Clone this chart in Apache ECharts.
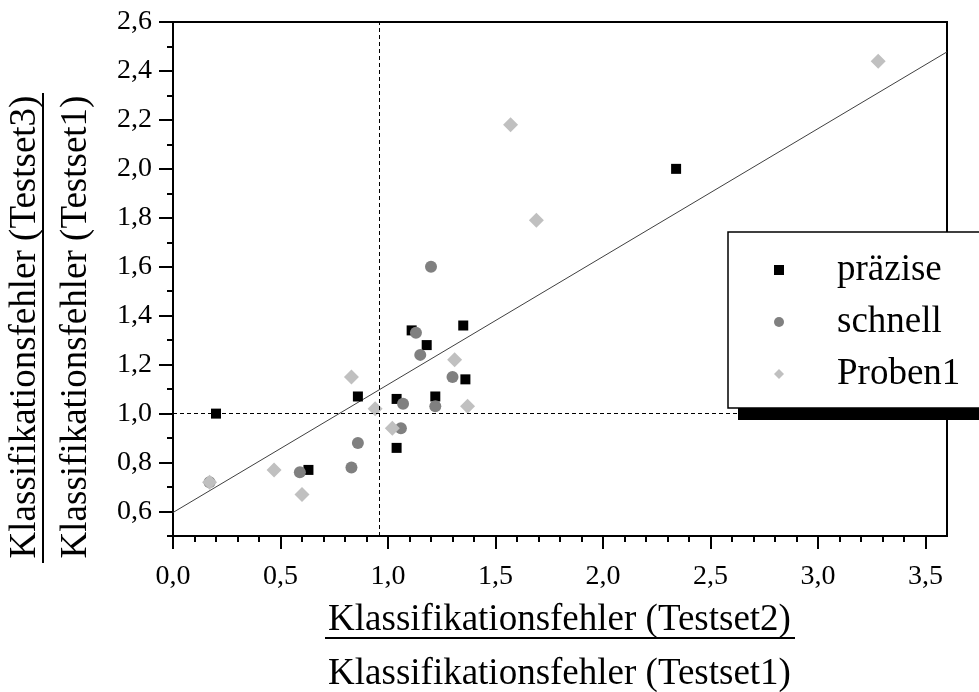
<!DOCTYPE html>
<html>
<head>
<meta charset="utf-8">
<script src="https://cdn.jsdelivr.net/npm/echarts@6/dist/echarts.min.js"></script>
<style>
html,body{margin:0;padding:0;background:#fff;}
#c{width:979px;height:692px;}
</style>
</head>
<body>
<div id="c"></div>
<script>
// ---- data ----
const seriesNames = ['präzise', 'schnell', 'Proben1'];

const praeziseX = [0.20, 0.63, 0.86, 1.04, 1.04, 1.11, 1.18, 1.22, 1.35, 1.36, 2.34];
const praeziseY = [1.00, 0.77, 1.07, 1.06, 0.86, 1.34, 1.28, 1.07, 1.36, 1.14, 2.00];

const schnellX = [0.17, 0.59, 0.83, 0.86, 1.06, 1.07, 1.13, 1.15, 1.20, 1.22, 1.30];
const schnellY = [0.72, 0.76, 0.78, 0.88, 0.94, 1.04, 1.33, 1.24, 1.60, 1.03, 1.15];

const proben1X = [0.17, 0.47, 0.60, 0.83, 0.94, 1.02, 1.31, 1.37, 1.57, 1.69, 3.28];
const proben1Y = [0.72, 0.77, 0.67, 1.15, 1.02, 0.94, 1.22, 1.03, 2.18, 1.79, 2.44];

const fitX = [0, 3.6];
const fitY = [0.596, 2.478];

const refX = 0.96;
const refY = 1.0;

const xMajorTicks = [0, 0.5, 1.0, 1.5, 2.0, 2.5, 3.0, 3.5];
const xMinorTicks = [0.1, 0.2, 0.3, 0.4, 0.6, 0.7, 0.8, 0.9, 1.1, 1.2, 1.3, 1.4,
                     1.6, 1.7, 1.8, 1.9, 2.1, 2.2, 2.3, 2.4, 2.6, 2.7, 2.8, 2.9,
                     3.1, 3.2, 3.3, 3.4];
const yMajorTicks = [0.6, 0.8, 1.0, 1.2, 1.4, 1.6, 1.8, 2.0, 2.2, 2.4, 2.6];
const yMinorTicks = [0.5, 0.7, 0.9, 1.1, 1.3, 1.5, 1.7, 1.9, 2.1, 2.3, 2.5];

const xTitle1 = 'Klassifikationsfehler (Testset2)';
const xTitle2 = 'Klassifikationsfehler (Testset1)';
const yTitle1 = 'Klassifikationsfehler (Testset3)';
const yTitle2 = 'Klassifikationsfehler (Testset1)';

// ---- helpers ----
function zip(xs, ys) { return xs.map((x, i) => [x, ys[i]]); }
const fmt = v => Number(v).toFixed(1).replace('.', ',');
const FONT = '"Liberation Serif", "Times New Roman", serif';

const chart = echarts.init(document.getElementById('c'), null, {renderer: 'canvas'});

const majorAxisCommon = {
  type: 'value',
  axisLine: {show: true, onZero: false, lineStyle: {color: '#000', width: 2}},
  splitLine: {show: false},
  minorTick: {show: false}
};

chart.setOption({
  animation: false,
  backgroundColor: '#fff',
  grid: {
    left: 173, top: 22, width: 774, height: 514,
    show: true, borderColor: '#000', borderWidth: 2, backgroundColor: 'transparent'
  },
  xAxis: [
    Object.assign({}, majorAxisCommon, {
      min: 0, max: 3.6, position: 'bottom',
      axisTick: {show: true, customValues: xMajorTicks, length: 13, lineStyle: {color: '#000', width: 2}},
      axisLabel: {customValues: xMajorTicks, formatter: fmt, margin: 27, color: '#000',
                  fontFamily: FONT, fontSize: 28}
    }),
    {
      type: 'value', min: 0, max: 3.6, position: 'bottom',
      axisLine: {show: false, onZero: false},
      axisTick: {show: true, customValues: xMinorTicks, length: 6, lineStyle: {color: '#000', width: 2}},
      axisLabel: {show: false},
      splitLine: {show: false}
    }
  ],
  yAxis: [
    Object.assign({}, majorAxisCommon, {
      min: 0.5, max: 2.6, position: 'left',
      axisTick: {show: true, customValues: yMajorTicks, length: 14, lineStyle: {color: '#000', width: 2}},
      axisLabel: {customValues: yMajorTicks, formatter: fmt, margin: 21, color: '#000',
                  fontFamily: FONT, fontSize: 28}
    }),
    {
      type: 'value', min: 0.5, max: 2.6, position: 'left',
      axisLine: {show: false, onZero: false},
      axisTick: {show: true, customValues: yMinorTicks, length: 6, lineStyle: {color: '#000', width: 2}},
      axisLabel: {show: false},
      splitLine: {show: false}
    }
  ],
  legend: {
    data: seriesNames,
    orient: 'vertical',
    left: 728, top: 232,
    padding: [18, 160, 14, 46],
    itemWidth: 10, itemHeight: 10, itemGap: 12,
    backgroundColor: '#fff',
    borderColor: '#000', borderWidth: 1.5,
    textStyle: {fontFamily: FONT, fontSize: 37, lineHeight: 40, color: '#000', padding: [0, 0, 0, 48]},
    selectedMode: false,
    z: 10
  },
  graphic: [
    // legend drop shadow
    {type: 'rect', z: 9, shape: {x: 738, y: 244, width: 260, height: 176}, style: {fill: '#000'}},
    // x axis titles
    {type: 'text', z: 10, style: {text: xTitle1, x: 559.5, y: 620.5, align: 'center', textAlign: 'center',
      verticalAlign: 'middle', textVerticalAlign: 'middle', font: '37px ' + FONT, fill: '#000'}},
    {type: 'line', z: 10, shape: {x1: 325, y1: 638, x2: 795, y2: 638}, style: {stroke: '#000', lineWidth: 2}},
    {type: 'text', z: 10, style: {text: xTitle2, x: 559.5, y: 674, align: 'center', textAlign: 'center',
      verticalAlign: 'middle', textVerticalAlign: 'middle', font: '37px ' + FONT, fill: '#000'}},
    // y axis titles
    {type: 'text', z: 10, x: 25, y: 327, rotation: Math.PI / 2,
      style: {text: yTitle1, x: 0, y: 0, align: 'center', textAlign: 'center',
      verticalAlign: 'middle', textVerticalAlign: 'middle', font: '37px ' + FONT, fill: '#000'}},
    {type: 'line', z: 10, shape: {x1: 43, y1: 93, x2: 43, y2: 563}, style: {stroke: '#000', lineWidth: 2}},
    {type: 'text', z: 10, x: 76, y: 327, rotation: Math.PI / 2,
      style: {text: yTitle2, x: 0, y: 0, align: 'center', textAlign: 'center',
      verticalAlign: 'middle', textVerticalAlign: 'middle', font: '37px ' + FONT, fill: '#000'}}
  ],
  series: [
    {
      name: 'fit', type: 'line', data: zip(fitX, fitY),
      xAxisIndex: 0, yAxisIndex: 0,
      symbol: 'none', silent: true, z: 1,
      lineStyle: {color: '#404040', width: 1},
      markLine: {
        symbol: 'none', silent: true, animation: false,
        label: {show: false},
        lineStyle: {color: '#000', type: [4, 3], width: 1},
        emphasis: {disabled: true},
        data: [{xAxis: refX}, {yAxis: refY}]
      }
    },
    {
      name: seriesNames[0], type: 'scatter', data: zip(praeziseX, praeziseY),
      xAxisIndex: 0, yAxisIndex: 0,
      symbol: 'rect', symbolSize: 10, z: 2,
      itemStyle: {color: '#000', opacity: 1}
    },
    {
      name: seriesNames[1], type: 'scatter', data: zip(schnellX, schnellY),
      xAxisIndex: 0, yAxisIndex: 0,
      symbol: 'circle', symbolSize: 12, z: 3,
      itemStyle: {color: '#808080', opacity: 1}
    },
    {
      name: seriesNames[2], type: 'scatter', data: zip(proben1X, proben1Y),
      xAxisIndex: 0, yAxisIndex: 0,
      symbol: 'diamond', symbolSize: 15, z: 4,
      itemStyle: {color: '#c0c0c0', opacity: 1}
    }
  ]
});
</script>
</body>
</html>
